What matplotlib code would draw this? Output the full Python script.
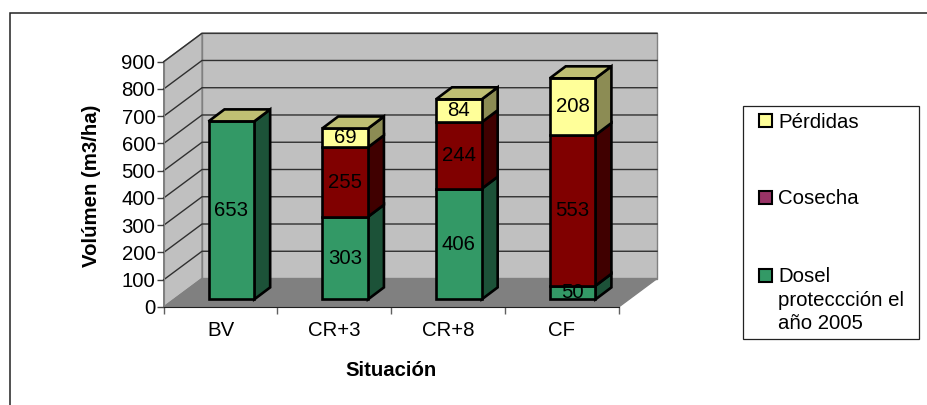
# Stacked 3D-look column chart, volume by situation

import matplotlib
matplotlib.use('Agg')
import matplotlib.pyplot as plt
from matplotlib.patches import Polygon, Rectangle

plt.rcParams['font.family'] = ['Liberation Sans', 'DejaVu Sans']

W, H = 928, 405

# Data
categories = ['BV', 'CR+3', 'CR+8', 'CF']
dosel = [653, 303, 406, 50]
cosecha = [0, 255, 244, 553]
perdidas = [0, 69, 84, 208]
y_ticks = [0, 100, 200, 300, 400, 500, 600, 700, 800, 900]

# front and side colours of each series
green = ('#339966', '#1c5238')
red = ('#800000', '#400000')
yellow = ('#ffff99', '#8c8c54')
top_colour = '#bfbf73'
font_size = 14.7

fig = plt.figure(figsize=(W / 100, H / 100), dpi=100, facecolor='white')

# only the top and left edges of the outer frame are visible
bg = fig.add_axes([0, 0, 1, 1])
bg.set_xlim(0, W)
bg.set_ylim(H, 0)
bg.axis('off')
bg.plot([10.5, 10.5, W], [H, 13, 13], color='#222222', lw=1.1, solid_joinstyle='miter')

# the plot axes cover only the front plane, everything else is offset from it
left, right, top, bottom = 163.7, 618.7, 61.7, 307
ax = fig.add_axes([left / W, 1 - bottom / H, (right - left) / W, (bottom - top) / H])
ax.set_xlim(0, 4)
ax.set_ylim(0, 900)
ax.patch.set_visible(False)
for s in ['top', 'right']:
    ax.spines[s].set_visible(False)
ax.spines['left'].set_color('#808080')
ax.spines['bottom'].set_color('#202020')
ax.spines['bottom'].set_zorder(3)

# depth of the box in data units
depth_x = 0.337
depth_y = 104.5
# bar placement inside the depth
bar_off_x = 0.095
bar_off_y = 28
bar_dx = 0.14
bar_dy = 44
bar_w = 0.402


def poly(pts, fc, ec='none', lw=0, z=1):
    ax.add_patch(Polygon(pts, closed=True, facecolor=fc, edgecolor=ec, linewidth=lw,
                         zorder=z, clip_on=False, joinstyle='miter'))


# walls and floor
poly([(depth_x, depth_y), (4 + depth_x, depth_y), (4 + depth_x, 900 + depth_y),
      (depth_x, 900 + depth_y)], '#c0c0c0', '#808080', 1)
poly([(0, 0), (depth_x, depth_y), (depth_x, 900 + depth_y), (0, 900)], '#c0c0c0', '#808080', 1)
poly([(0, 0), (4, 0), (4 + depth_x, depth_y), (depth_x, depth_y)], '#808080', '#808080', 1)

for t in y_ticks[1:]:
    ax.plot([0, depth_x, 4 + depth_x], [t, t + depth_y, t + depth_y], color='#303030',
            lw=1, zorder=2, clip_on=False, solid_joinstyle='miter')

# bars
for i in range(len(categories)):
    x0 = i + 0.5 - bar_w / 2 + bar_off_x
    x1 = x0 + bar_w
    base = bar_off_y
    for val, col in zip([dosel[i], cosecha[i], perdidas[i]], [green, red, yellow]):
        if val == 0:
            continue
        t = base + val
        poly([(x1, base), (x1 + bar_dx, base + bar_dy), (x1 + bar_dx, t + bar_dy), (x1, t)],
             col[1], 'black', 1.9, 3)
        poly([(x0, base), (x1, base), (x1, t), (x0, t)], col[0], 'black', 1.9, 4)
        ax.text((x0 + x1) / 2, base + val / 2, str(val), ha='center', va='center',
                fontsize=font_size, color='black', zorder=6)
        base = t
    poly([(x0, base), (x1, base), (x1 + bar_dx, base + bar_dy), (x0 + bar_dx, base + bar_dy)],
         top_colour, 'black', 1.9, 5)

# axes text
ax.set_xticks(range(5))
ax.set_xticklabels([])
ax.set_xticks([i + 0.5 for i in range(4)], categories, minor=True)
ax.tick_params(axis='x', which='major', length=5, width=1, color='#606060')
ax.tick_params(axis='x', which='minor', length=0, labelsize=font_size, pad=10)
ax.set_yticks(y_ticks)
ax.tick_params(axis='y', length=5, width=1, color='#404040', labelsize=font_size, pad=1)
bg.text(391, 370, 'Situación', fontsize=font_size, fontweight='bold', ha='center', va='center')
bg.text(92, 186, 'Volúmen (m3/ha)', fontsize=font_size, fontweight='bold', ha='center',
        va='center', rotation=90)

# legend box
bg.add_patch(Rectangle((743.5, 106), 176, 233, fill=False, edgecolor='#222222', lw=0.9))
legend_items = [('Pérdidas', '#ffff99', 120.5), ('Cosecha', '#993366', 197),
                ('Dosel\nproteccción el\naño 2005', '#339966', 275.5)]
for label, c, ly in legend_items:
    bg.add_patch(Rectangle((759, ly - 6.5), 13.5, 13, facecolor=c, edgecolor='black', lw=1.5))
    bg.text(778, ly - 8, label, ha='left', va='top', fontsize=font_size, linespacing=1.27)

fig.savefig('out.png', dpi=100)
